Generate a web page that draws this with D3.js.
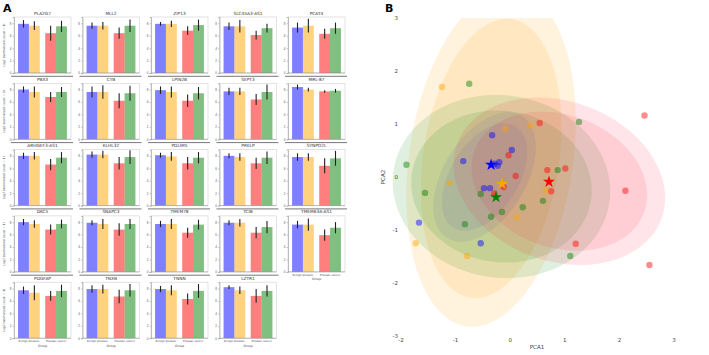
<!DOCTYPE html>
<html>
<head>
<meta charset="utf-8">
<script src="https://cdn.jsdelivr.net/npm/d3@7"></script>
<style>
  body { margin: 0; background: #fff; }
  svg { display: block; font-family: "DejaVu Sans", sans-serif; }
</style>
</head>
<body>
<svg id="fig" width="709" height="355"></svg>
<script>
// ---- panel A data ----
const genes = [
  "PLA2G7", "MLL2", "ZIP13", "SLC45A3-AS1", "PCAT4",
  "PBX3", "CYB", "LPIN2B", "SEPT3", "MRL-87",
  "ARHGEF3-AS1", "KLHL32", "PDLIM5", "PRELP", "SYNPO2L",
  "DKC5", "SNAPC3", "TMEM78", "TCIB", "TMEM63A-AS1",
  "PDGFAP", "TNXB", "TNNN", "LZTR1"
];
const groupNames = ["Benign prostate", "Prostate cancer"];
const meanBlue   = [7.9,7.6,7.9,7.5,7.3, 8.0,7.6,7.9,7.7,8.4, 8.0,8.2,8.1,8.0,7.8, 8.0,7.9,7.7,7.9,7.6, 7.7,7.9,7.9,8.2];
const meanOrange = [7.6,7.6,7.9,7.5,7.6, 7.6,7.6,7.6,7.7,8.0, 8.0,8.2,7.9,7.8,7.8, 7.7,7.7,7.7,7.9,7.6, 7.3,7.9,7.7,7.7];
const meanRed    = [6.4,6.4,6.8,6.1,6.3, 6.8,6.2,6.2,6.4,7.7, 6.6,6.8,6.8,6.8,6.4, 6.8,6.8,6.3,6.3,5.9, 6.8,6.7,6.3,6.8];
const meanGreen  = [7.5,7.6,7.7,7.2,7.2, 7.6,7.4,7.4,7.6,7.8, 7.7,7.8,7.7,7.7,7.6, 7.7,7.7,7.6,7.2,7.1, 7.6,7.7,7.6,7.6];
const errBlue    = [0.6,0.5,0.3,0.6,0.8, 0.5,0.9,0.6,0.6,0.4, 0.5,0.5,0.4,0.4,0.6, 0.5,0.4,0.5,0.4,0.6, 0.6,0.6,0.5,0.3];
const errOrange  = [0.7,0.6,0.5,1.0,1.1, 0.9,1.1,0.9,0.6,0.3, 0.6,0.6,0.7,0.6,0.6, 0.6,0.8,0.8,0.6,1.0, 1.2,0.7,0.8,0.6];
const errRed     = [1.2,0.9,0.7,0.7,0.8, 0.8,1.2,1.0,0.9,0.2, 0.9,1.0,1.0,0.9,1.2, 0.8,1.0,0.8,0.9,0.9, 0.8,1.1,0.9,1.1];
const errGreen   = [0.9,1.0,0.9,0.7,0.9, 0.8,1.2,1.0,1.2,0.3, 0.9,1.1,0.9,1.0,1.2, 0.7,0.8,0.8,1.0,0.9, 1.0,1.0,1.1,0.9];
const yTicksA = [0, 2, 4, 6, 8];

// ---- panel B data ----
const pcaBlue = [[-0.33,0.79],[0.03,0.51],[-0.86,0.30],[-0.20,0.28],[-0.23,0.21],[-0.29,0.25],
  [-0.48,-0.21],[-0.37,-0.21],[-1.67,-0.86],[-0.54,-1.25]];
const pcaRed = [[2.46,1.16],[0.54,1.02],[-0.03,0.41],[0.10,0.02],[0.68,0.13],[1.01,0.16],
  [-0.12,-0.19],[-0.29,-0.31],[0.75,-0.27],[2.11,-0.26],[1.20,-1.26],[2.55,-1.66]];
const pcaGreen = [[-0.75,1.76],[1.26,1.04],[-1.90,0.23],[0.87,0.13],[-1.56,-0.30],[-0.54,-0.32],
  [0.60,-0.45],[0.23,-0.57],[-0.15,-0.66],[-0.35,-0.75],[-0.83,-0.89],[1.10,-1.49]];
const pcaOrange = [[-1.25,1.70],[0.37,0.97],[-0.09,0.91],[-1.11,-0.11],[0.65,-0.25],
  [0.12,-0.76],[-1.73,-1.25],[-0.79,-1.49]];
const centroidGroups = ["blue", "orange", "red", "green"];
const centroidX = [-0.35, -0.15, 0.71, -0.26];
const centroidY = [0.23, -0.13, -0.09, -0.38];
// confidence ellipses: centre, semi-axes, rotation (deg), drawn at two levels
const ellipseGroups = ["orange", "green", "red", "blue"];
const ellipseFills = ["orange", "green", "#ff2a4a", "#3030c0"];
const ellipseAlpha = [0.13, 0.12, 0.12, 0.08];
const ellipseCx = [-0.35, -0.16, 0.90, -0.47];
const ellipseCy = [0.35, -0.18, -0.08, 0.00];
const ellipseA = [3.2, 2.0, 2.0, 1.34];
const ellipseB = [1.5, 1.72, 1.5, 0.76];
const ellipseAngle = [82, -10, -22, 60];
const ellipseLevels = [1, 0.83];
const pcaTicks = [-3, -2, -1, 0, 1, 2, 3];

const svg = d3.select("#fig");

// ================= Panel A =================
svg.append("text").attr("x", 3).attr("y", 12)
  .attr("font-size", 11).attr("font-weight", "bold").text("A");

const barColors = ["blue", "orange", "red", "green"];
const means = [meanBlue, meanOrange, meanRed, meanGreen];
const errs = [errBlue, errOrange, errRed, errGreen];
const colW = 57, rowH = 56;
const colX = c => 14 + c * 68.5;
const rowY = r => 17 + r * 66.3;

const yA = d3.scaleLinear().domain([0, 9]).range([rowH, 0]);
const xGroup = d3.scaleBand().domain(groupNames).range([0, colW])
  .paddingInner(0.2).paddingOuter(0.15);
const xHue = d3.scaleBand().domain([0, 1]).range([0, xGroup.bandwidth()]);

genes.forEach((gene, i) => {
  const r = Math.floor(i / 5), c = i % 5;
  const g = svg.append("g").attr("transform", `translate(${colX(c)},${rowY(r)})`);

  if (r > 0) {
    g.append("line").attr("x1", -3).attr("x2", colW + 2)
      .attr("y1", -7).attr("y2", -7)
      .attr("stroke", "#555").attr("stroke-width", 0.8);
  }
  g.append("text").attr("x", colW / 2).attr("y", -2.5)
    .attr("text-anchor", "middle").attr("font-size", 4.3).attr("fill", "#333")
    .text(gene);

  g.append("rect").attr("width", colW).attr("height", rowH)
    .attr("fill", "none").attr("stroke", "#d0d0d0").attr("stroke-width", 0.6);

  const bars = d3.range(4).map(k => ({
    k, group: groupNames[k < 2 ? 0 : 1], hue: k % 2,
    mean: means[k][i], err: errs[k][i]
  }));

  g.selectAll("rect.bar").data(bars).enter().append("rect")
    .attr("class", "bar")
    .attr("x", d => xGroup(d.group) + xHue(d.hue))
    .attr("y", d => yA(d.mean))
    .attr("width", xHue.bandwidth())
    .attr("height", d => rowH - yA(d.mean))
    .attr("fill", d => barColors[d.k]).attr("fill-opacity", 0.5);

  g.selectAll("line.err").data(bars).enter().append("line")
    .attr("class", "err")
    .attr("x1", d => xGroup(d.group) + xHue(d.hue) + xHue.bandwidth() / 2)
    .attr("x2", d => xGroup(d.group) + xHue(d.hue) + xHue.bandwidth() / 2)
    .attr("y1", d => yA(d.mean - d.err))
    .attr("y2", d => yA(d.mean + d.err))
    .attr("stroke", "#222").attr("stroke-width", 1.1);

  const ax = g.append("g").call(d3.axisLeft(yA).tickValues(yTicksA).tickSize(1.5).tickPadding(1));
  ax.select(".domain").attr("stroke", "#999").attr("stroke-width", 0.6);
  ax.selectAll(".tick line").attr("stroke", "#999").attr("stroke-width", 0.5);
  ax.selectAll("text").attr("font-size", 3).attr("fill", "#555");
  g.append("line").attr("x1", 0).attr("x2", colW).attr("y1", rowH).attr("y2", rowH)
    .attr("stroke", "#999").attr("stroke-width", 0.6);

  if (c === 0) {
    g.append("text")
      .attr("transform", `translate(-9,${rowH / 2}) rotate(-90)`)
      .attr("text-anchor", "middle").attr("font-size", 3).attr("fill", "#444")
      .text("Log2 (normalized count + 1)");
  }

  const bottom = r === 4 || (r === 3 && c === 4);
  if (bottom) {
    g.selectAll("text.xl").data(groupNames).enter().append("text")
      .attr("class", "xl")
      .attr("x", d => xGroup(d) + xGroup.bandwidth() / 2)
      .attr("y", rowH + 4)
      .attr("text-anchor", "middle").attr("font-size", 2.6).attr("fill", "#444")
      .text(d => d);
    g.append("text").attr("x", colW / 2).attr("y", rowH + 8.5)
      .attr("text-anchor", "middle").attr("font-size", 3).attr("fill", "#444")
      .text("Group");
  }
});

// ================= Panel B =================
svg.append("text").attr("x", 385).attr("y", 12)
  .attr("font-size", 11).attr("font-weight", "bold").text("B");

const xB = d3.scaleLinear().domain([-2, 3]).range([401, 674]);
const yB = d3.scaleLinear().domain([-3, 3]).range([336, 18]);

svg.append("clipPath").attr("id", "clipB").append("rect")
  .attr("x", 388).attr("y", 18).attr("width", 320).attr("height", 320);
const plotB = svg.append("g").attr("clip-path", "url(#clipB)");

const ellipsePath = (cx, cy, a, b, angDeg) => {
  const th = angDeg * Math.PI / 180;
  const pts = d3.range(0, 2 * Math.PI, Math.PI / 60).map(t => [
    xB(cx + a * Math.cos(th) * Math.cos(t) - b * Math.sin(th) * Math.sin(t)),
    yB(cy + a * Math.sin(th) * Math.cos(t) + b * Math.cos(th) * Math.sin(t))
  ]);
  return d3.line().curve(d3.curveLinearClosed)(pts);
};

ellipseGroups.forEach((grp, k) => {
  ellipseLevels.forEach(lv => {
    plotB.append("path")
      .attr("d", ellipsePath(ellipseCx[k], ellipseCy[k], ellipseA[k] * lv, ellipseB[k] * lv, ellipseAngle[k]))
      .attr("fill", ellipseFills[k]).attr("fill-opacity", ellipseAlpha[k]);
  });
});

const pointSets = [["orange", pcaOrange], ["green", pcaGreen], ["red", pcaRed], ["blue", pcaBlue]];
pointSets.forEach(([col, pts]) => {
  plotB.selectAll(null).data(pts).enter().append("circle")
    .attr("cx", d => xB(d[0])).attr("cy", d => yB(d[1])).attr("r", 3.2)
    .attr("fill", col).attr("fill-opacity", 0.45);
});

plotB.selectAll("path.star").data(centroidGroups).enter().append("path")
  .attr("class", "star")
  .attr("transform", (d, i) => `translate(${xB(centroidX[i])},${yB(centroidY[i])})`)
  .attr("d", d3.symbol().type(d3.symbolStar).size(45))
  .attr("fill", d => d);

svg.selectAll("text.xtB").data(pcaTicks.filter(t => t >= -2)).enter().append("text")
  .attr("class", "xtB")
  .attr("x", d => xB(d)).attr("y", 342)
  .attr("text-anchor", "middle").attr("font-size", 5.5).attr("fill", "#444")
  .text(d => d);
svg.append("text").attr("x", 537).attr("y", 349).attr("text-anchor", "middle")
  .attr("font-size", 5.5).attr("fill", "#444").text("PCA1");

svg.selectAll("text.ytB").data(pcaTicks).enter().append("text")
  .attr("class", "ytB")
  .attr("x", 398).attr("y", d => yB(d) + 2)
  .attr("text-anchor", "end").attr("font-size", 5.5).attr("fill", "#444")
  .text(d => d);
svg.append("text").attr("transform", `translate(385,${yB(0)}) rotate(-90)`)
  .attr("text-anchor", "middle").attr("font-size", 5.5).attr("fill", "#444").text("PCA2");
</script>
</body>
</html>
